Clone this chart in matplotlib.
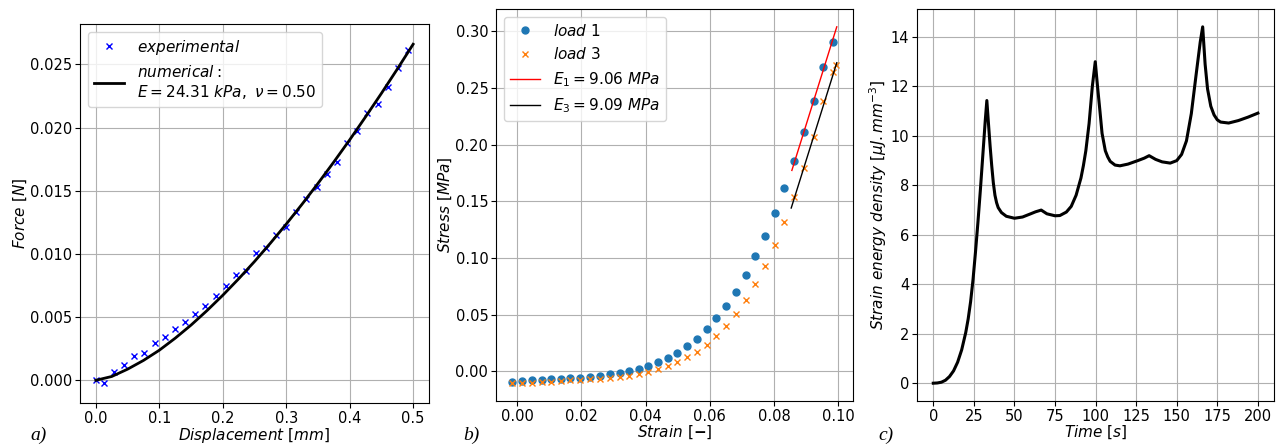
import matplotlib
matplotlib.use("Agg")
import matplotlib.pyplot as plt
from matplotlib.ticker import MultipleLocator

plt.rcParams['font.size'] = 11
plt.rcParams['xtick.labelsize'] = 10.5
plt.rcParams['ytick.labelsize'] = 10.5

# a) force vs displacement
disp_exp = [0.0, 0.0126, 0.0285, 0.0448, 0.0606, 0.0764, 0.0927, 0.1085, 0.1243, 0.1407,
            0.1565, 0.1723, 0.1886, 0.2044, 0.2202, 0.236, 0.2524, 0.2682, 0.284, 0.3003,
            0.3161, 0.3319, 0.3483, 0.3641, 0.3799, 0.3962, 0.412, 0.4278, 0.4441, 0.46,
            0.4758, 0.4916]
force_exp = [0.0, -0.00024, 0.00069, 0.00122, 0.00193, 0.00214, 0.00296, 0.00339, 0.00402, 0.00463,
             0.00524, 0.00590, 0.00664, 0.00749, 0.00836, 0.00865, 0.01008, 0.01048, 0.01148, 0.01217,
             0.01331, 0.01437, 0.01532, 0.01635, 0.01725, 0.01881, 0.01976, 0.02114, 0.02188, 0.02325,
             0.02474, 0.02611]
disp_num = [0.0, 0.025, 0.05, 0.075, 0.1, 0.125, 0.15, 0.175, 0.2, 0.225, 0.25,
            0.275, 0.3, 0.325, 0.35, 0.375, 0.4, 0.425, 0.45, 0.475, 0.5]
force_num = [0.0, 0.0003, 0.00088, 0.00157, 0.00238, 0.00333, 0.00437, 0.00551, 0.00673, 0.00803, 0.0094,
             0.01085, 0.01236, 0.01394, 0.01558, 0.01728, 0.01903, 0.02085, 0.02271, 0.02463, 0.0266]

# b) stress vs strain
strain1 = [-0.00156, 0.00145, 0.00457, 0.00758, 0.01059, 0.0136, 0.0166, 0.0196, 0.0227, 0.0258,
           0.0288, 0.0319, 0.0349, 0.0379, 0.0409, 0.0439, 0.0469, 0.0499, 0.0530, 0.0560,
           0.0591, 0.0621, 0.0651, 0.0681, 0.0712, 0.0742, 0.0773, 0.0803, 0.0833, 0.0863,
           0.0893, 0.0924, 0.0954, 0.0984]
stress1 = [-0.0094, -0.0088, -0.0082, -0.0076, -0.0070, -0.0068, -0.0062, -0.0056, -0.0050, -0.0041,
           -0.0029, -0.0015, 0.0000, 0.0021, 0.0047, 0.0079, 0.0114, 0.0164, 0.0220, 0.0288,
           0.0370, 0.0467, 0.0575, 0.0701, 0.0848, 0.1013, 0.1195, 0.1400, 0.1617, 0.1855,
           0.2113, 0.2386, 0.2683, 0.2909]
strain3 = strain1 + [0.0995]
stress3 = [-0.0106, -0.0103, -0.0100, -0.0094, -0.0091, -0.0088, -0.0082, -0.0076, -0.0073, -0.0068,
           -0.0059, -0.0050, -0.0041, -0.0026, -0.0006, 0.0018, 0.0047, 0.0082, 0.0123, 0.0173,
           0.0235, 0.0311, 0.0399, 0.0505, 0.0625, 0.0766, 0.0927, 0.1112, 0.1318, 0.1535,
           0.1793, 0.2069, 0.2386, 0.2639, 0.2703]
fit1_x = [0.0856, 0.0996]
fit1_y = [0.1773, 0.3041]
fit3_x = [0.0854, 0.0996]
fit3_y = [0.1441, 0.2724]

# c) strain energy density vs time
time = [0, 2.5, 5, 7.5, 10, 12.5, 15, 17.5, 20, 21.5, 23, 24.5, 26, 27.5, 29, 30.5, 32, 33,
        34, 35, 36, 37, 38, 39, 40, 42, 45, 50, 55, 60, 63, 66.5, 70, 75, 78, 82, 85, 88, 89.5,
        91, 92.5, 94, 96, 98, 99.8, 101.2, 102.7, 104, 106, 107.5, 109, 112, 115, 120, 126, 130,
        133, 137, 141, 146, 150, 153, 156, 159, 162, 164.5, 166, 167.5, 169, 171, 173, 175, 177,
        182, 188, 194, 200]
sed = [0, 0.01, 0.04, 0.12, 0.27, 0.5, 0.85, 1.35, 2.05, 2.6, 3.3, 4.2, 5.3, 6.5, 7.8, 9.2, 10.6, 11.43,
       10.5, 9.6, 8.8, 8.1, 7.6, 7.3, 7.1, 6.9, 6.75, 6.67, 6.72, 6.85, 6.93, 7.0, 6.85, 6.77, 6.78, 6.92,
       7.15, 7.6, 7.95, 8.3, 8.8, 9.4, 10.5, 12.0, 13.0, 12.0, 11.0, 10.1, 9.4, 9.15, 8.97, 8.82, 8.79,
       8.86, 9.0, 9.1, 9.2, 9.05, 8.95, 8.9, 9.0, 9.25, 9.8, 10.9, 12.5, 13.8, 14.41, 12.9, 11.9, 11.2,
       10.85, 10.65, 10.56, 10.52, 10.62, 10.76, 10.92]

fig = plt.figure(figsize=(12.76, 4.44), dpi=100)
ax1 = fig.add_axes([0.0627, 0.0923, 0.2735, 0.8536])
ax2 = fig.add_axes([0.3887, 0.0968, 0.2798, 0.8829])
ax3 = fig.add_axes([0.7187, 0.0968, 0.2798, 0.8829])

ax1.plot(disp_exp, force_exp, 'x', color='blue', ms=5, label='$experimental$')
ax1.plot(disp_num, force_num, '-', color='black', lw=2,
         label='$numerical:$\n$E = 24.31\\ kPa,\\ \\nu = 0.50$')
ax1.set_ylim(-0.0018, 0.0282)
ax1.set_xlabel('$Displacement\\ [mm]$', labelpad=0)
ax1.set_ylabel('$Force\\ [N]$', labelpad=1)
ax1.legend(loc='upper left')

ax2.plot(strain1, stress1, 'o', color='tab:blue', ms=5, label='$load\\ 1$')
ax2.plot(strain3, stress3, 'x', color='tab:orange', ms=5, label='$load\\ 3$')
ax2.plot(fit1_x, fit1_y, '-', color='red', lw=1, label='$E_1 = 9.06\\ MPa$')
ax2.plot(fit3_x, fit3_y, '-', color='black', lw=1, label='$E_3 = 9.09\\ MPa$')
ax2.set_xlabel('$Strain\\ [\\mathbf{-}]$', labelpad=0)
ax2.set_ylabel('$Stress\\ [MPa]$', labelpad=1)
ax2.legend(loc='upper left')

ax3.plot(time, sed, '-', color='black', lw=2.2, solid_joinstyle='round')
ax3.xaxis.set_major_locator(MultipleLocator(25))
ax3.set_xlabel('$Time\\ [s]$', labelpad=0)
ax3.set_ylabel('$Strain\\ energy\\ density\\ [\\mu J.mm^{-3}]$', labelpad=1)

for ax in (ax1, ax2, ax3):
    ax.grid(True)
    ax.tick_params(pad=2)

for xpos, lab in [(30, 'a)'), (463, 'b)'), (878, 'c)')]:
    fig.text(xpos / 1276, 4 / 444, lab, family='Liberation Serif', style='italic',
             fontsize=14, va='baseline')

plt.savefig('out.png')
